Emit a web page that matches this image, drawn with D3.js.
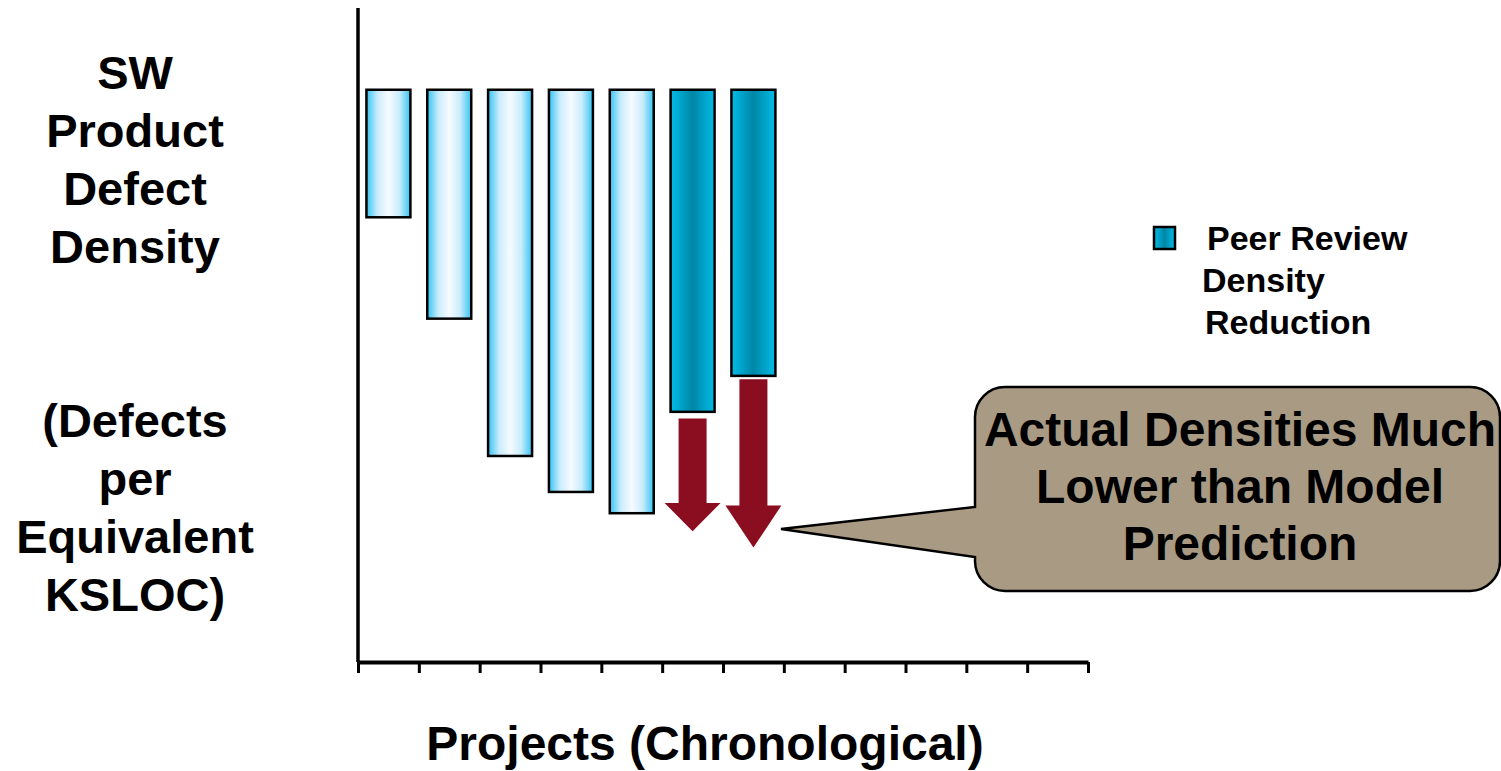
<!DOCTYPE html>
<html>
<head>
<meta charset="utf-8">
<script src="https://cdn.jsdelivr.net/npm/d3@7"></script>
<style>
  body { margin: 0; background: #fff; }
  text { font-family: "Liberation Sans", Arial, sans-serif; font-weight: bold; fill: #000; }
</style>
</head>
<body>
<svg width="1501" height="771"></svg>
<script>
// chart data
const projects = ["P1", "P2", "P3", "P4", "P5", "P6", "P7"];
const slots = d3.range(12);
const barTop = [35, 35, 35, 35, 35, 35, 35];
const barBottom = [27.2, 21.0, 12.6, 10.4, 9.1, 15.3, 17.5];
const peerReview = [false, false, false, false, false, true, true];
const arrowProjects = [5, 6];
const arrowStart = [14.9, 17.3];
const arrowEnd = [8.0, 7.0];
const yLabelLines = ["SW", "Product", "Defect", "Density", "", "", "(Defects", "per", "Equivalent", "KSLOC)"];
const legendLines = ["Peer Review", "Density", "Reduction"];
const calloutLines = ["Actual Densities Much", "Lower than Model", "Prediction"];

const svg = d3.select("svg");
const defs = svg.append("defs");

function addGradient(id, stops) {
    const gr = defs.append("linearGradient")
        .attr("id", id)
        .attr("x1", "0%").attr("x2", "100%")
        .attr("y1", "0%").attr("y2", "0%");
    stops.forEach(s => gr.append("stop").attr("offset", s[0]).attr("stop-color", s[1]));
}
addGradient("lightBar", [["0%", "#33c4f2"], ["25%", "#c9ecfc"], ["50%", "#f6fbff"], ["75%", "#c9ecfc"], ["100%", "#33c4f2"]]);
addGradient("darkBar", [["0%", "#00bde8"], ["50%", "#0086a6"], ["100%", "#00bde8"]]);

const x = d3.scaleBand()
    .domain(slots)
    .range([358, 1088])
    .paddingInner(0.277)
    .paddingOuter(0.1385);

const xEdge = d3.scaleLinear()
    .domain([0, slots.length])
    .range([358, 1088]);

const y = d3.scaleLinear()
    .domain([0, 40])
    .range([662, 8]);

// y axis line
svg.append("line")
    .attr("x1", 358).attr("x2", 358)
    .attr("y1", y(40)).attr("y2", y(0))
    .attr("stroke", "#000")
    .attr("stroke-width", 3.5);

// x axis with ticks on slot edges
const xAxis = svg.append("g")
    .attr("transform", `translate(0, ${y(0)})`)
    .call(d3.axisBottom(xEdge).tickValues(d3.range(slots.length + 1)).tickSize(11).tickSizeOuter(0).tickFormat(""));
xAxis.select(".domain").attr("stroke", "#000").attr("stroke-width", 4);
xAxis.selectAll(".tick line").attr("stroke", "#000").attr("stroke-width", 3);

// bars
svg.selectAll(".bar")
    .data(projects)
    .enter()
    .append("rect")
    .attr("class", "bar")
    .attr("x", (d, i) => x(i))
    .attr("width", x.bandwidth())
    .attr("y", (d, i) => y(barTop[i]))
    .attr("height", (d, i) => y(barBottom[i]) - y(barTop[i]))
    .attr("fill", (d, i) => peerReview[i] ? "url(#darkBar)" : "url(#lightBar)")
    .attr("stroke", "#000")
    .attr("stroke-width", 2.5);

// arrows
const shaftW = 28;
const headW = 56;
arrowProjects.forEach((p, k) => {
    const cx = x(p) + x.bandwidth() / 2;
    const y0 = y(arrowStart[k]);
    const y1 = y(arrowEnd[k]);
    const headLen = (y1 - y0) * 0.25;
    const pts = [
        [cx - shaftW / 2, y0], [cx + shaftW / 2, y0],
        [cx + shaftW / 2, y1 - headLen], [cx + headW / 2, y1 - headLen],
        [cx, y1],
        [cx - headW / 2, y1 - headLen], [cx - shaftW / 2, y1 - headLen]
    ];
    svg.append("path")
        .attr("d", d3.line()(pts) + "Z")
        .attr("fill", "#8a0e1f");
});

// y label
const yLab = svg.append("text")
    .attr("text-anchor", "middle")
    .attr("font-size", "47px");
yLabelLines.forEach((t, i) => {
    yLab.append("tspan")
        .attr("x", 135)
        .attr("y", 89 + i * 58)
        .text(t);
});

// x label
svg.append("text")
    .attr("x", 705)
    .attr("y", 760)
    .attr("text-anchor", "middle")
    .attr("font-size", "48px")
    .text("Projects (Chronological)");

// legend
svg.append("rect")
    .attr("x", 1154).attr("y", 227)
    .attr("width", 21).attr("height", 22)
    .attr("fill", "url(#darkBar)")
    .attr("stroke", "#000")
    .attr("stroke-width", 2.5);
const legendX = [1207, 1202, 1205];
legendLines.forEach((t, i) => {
    svg.append("text")
        .attr("x", legendX[i])
        .attr("y", 250 + i * 42)
        .attr("font-size", "34px")
        .text(t);
});

// callout
const bx0 = 975, bx1 = 1500, by0 = 387, by1 = 591, r = 30;
const tip = [781, 529];
const callout = d3.path();
callout.moveTo(bx0 + r, by0);
callout.lineTo(bx1 - r, by0);
callout.arcTo(bx1, by0, bx1, by0 + r, r);
callout.lineTo(bx1, by1 - r);
callout.arcTo(bx1, by1, bx1 - r, by1, r);
callout.lineTo(bx0 + r, by1);
callout.arcTo(bx0, by1, bx0, by1 - r, r);
callout.lineTo(bx0, 557);
callout.lineTo(tip[0], tip[1]);
callout.lineTo(bx0, 507);
callout.lineTo(bx0, by0 + r);
callout.arcTo(bx0, by0, bx0 + r, by0, r);
callout.closePath();
svg.append("path")
    .attr("d", callout.toString())
    .attr("fill", "#a99a84")
    .attr("stroke", "#000")
    .attr("stroke-width", 2.5);

calloutLines.forEach((t, i) => {
    svg.append("text")
        .attr("x", 1240)
        .attr("y", 446 + i * 57)
        .attr("text-anchor", "middle")
        .attr("font-size", "48px")
        .text(t);
});
</script>
</body>
</html>
